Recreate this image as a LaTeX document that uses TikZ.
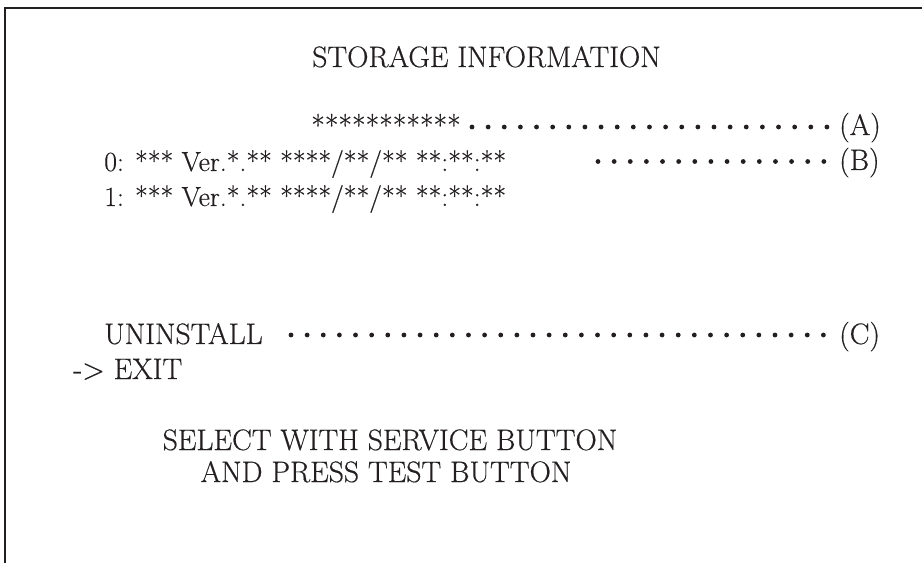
\documentclass[tikz,border=0pt]{standalone}
\usepackage{fontspec}
\setmainfont{Latin Modern Roman}[FakeBold=0.5]
\usepackage{tikz}
\usetikzlibrary{arrows.meta}
\usepackage{xcolor}
\definecolor{ink}{RGB}{35,31,32}

\tikzset{
  scr/.style={anchor=base west,inner sep=0pt,color=ink,font=\fontsize{22.2}{26}\selectfont},
  scrsmall/.style={scr,font=\fontsize{20.8}{25}\selectfont},
  leader/.style={color=ink,line width=3.6pt,line cap=round,dash pattern=on 0pt off 12.1pt}
}

\begin{document}
\begin{tikzpicture}[x=0.75pt,y=0.75pt,yscale=-1,xscale=1]
\useasboundingbox (0,0) rectangle (922,563); %set diagram to 922 x 563

%Frame lines
\draw [color=ink,line width=2.1] (5,563) -- (5,8) -- (922,8) ;

% Text Node
\node (title) at (312,67) [scr] {STORAGE INFORMATION};
% Text Node
\node (stars) at (311,136) [scr] {***********};
% Text Node
\node (ver0) at (104,171) [scrsmall] {0: *** Ver.*.** ****/**/** **:**:**};
% Text Node
\node (ver1) at (104,206) [scrsmall] {1: *** Ver.*.** ****/**/** **:**:**};
% Text Node
\node (uninst) at (104,344) [scr] {UNINSTALL};
% Text Node
\node (exit) at (73,379) [scr] {-> EXIT};
% Text Node
\node (sel1) at (390,450) [scr,anchor=base] {SELECT WITH SERVICE BUTTON};
% Text Node
\node (sel2) at (386,482) [scr,anchor=base] {AND PRESS TEST BUTTON};

% Marks
\node (labA) at (839,135) [scr] {(A)};
\node (labB) at (839,170) [scr] {(B)};
\node (labC) at (839,344) [scr] {(C)};

%Dotted leaders
\coordinate (dA) at (472,127);
\coordinate (dB) at (598,161.5);
\coordinate (dC) at (291,335);
\draw [leader] (dA) -- ([xshift=-6pt]dA -| labA.west);
\draw [leader] (dB) -- ([xshift=-6pt]dB -| labB.west);
\draw [leader] (dC) -- ([xshift=-6pt]dC -| labC.west);

\end{tikzpicture}
\end{document}
